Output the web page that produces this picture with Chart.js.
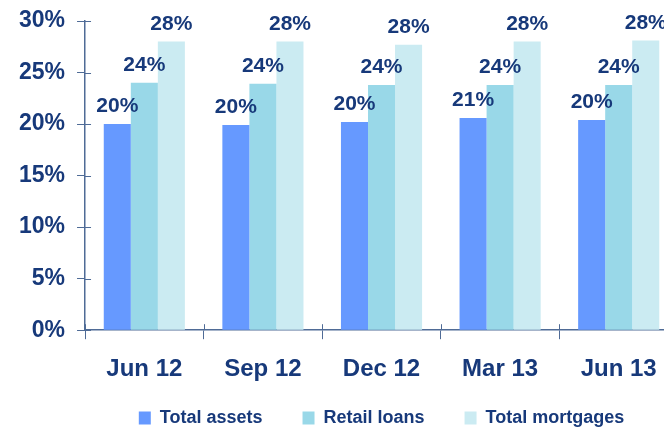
<!DOCTYPE html>
<html>
<head>
<meta charset="utf-8">
<script src="https://cdn.jsdelivr.net/npm/chart.js@4"></script>
<style>
  html, body { margin: 0; padding: 0; overflow: hidden; background: #fff; }
  #wrap { width: 680px; height: 437px; }
</style>
</head>
<body>
<div id="wrap"><canvas id="myChart"></canvas></div>
<script>
var labels = ['Jun 12', 'Sep 12', 'Dec 12', 'Mar 13', 'Jun 13'];
var totalAssets = [20.0, 19.9, 20.2, 20.6, 20.4];
var retailLoans = [24.0, 23.9, 23.8, 23.8, 23.8];
var totalMortgages = [28.0, 28.0, 27.7, 28.0, 28.1];
var yTicks = [0, 5, 10, 15, 20, 25, 30];

const navy = '#17397a';
const axisColor = '#4f6b96';
const fontFamily = '"Liberation Sans", Arial, sans-serif';

// value labels on top of each bar
const barLabels = {
    id: 'barLabels',
    afterDatasetsDraw(chart) {
        const ctx = chart.ctx;
        ctx.save();
        ctx.font = 'bold 21px ' + fontFamily;
        ctx.fillStyle = navy;
        ctx.textAlign = 'center';
        ctx.textBaseline = 'alphabetic';
        chart.data.datasets.forEach((ds, i) => {
            chart.getDatasetMeta(i).data.forEach((bar, j) => {
                ctx.fillText(Math.round(ds.data[j]) + '%', bar.x, bar.y - 12);
            });
        });
        ctx.restore();
    }
};

// short tick stubs inside the plot area (ticks cross the axis)
const innerTicks = {
    id: 'innerTicks',
    afterDraw(chart) {
        const ctx = chart.ctx;
        const x = chart.scales.x, y = chart.scales.y;
        ctx.save();
        ctx.strokeStyle = axisColor;
        ctx.lineWidth = 1;
        ctx.beginPath();
        y.ticks.forEach(t => {
            const py = Math.round(y.getPixelForValue(t.value)) + 0.5;
            ctx.moveTo(x.left, py);
            ctx.lineTo(x.left + 6, py);
        });
        const n = labels.length;
        for (let i = 0; i <= n; i++) {
            const px = Math.round(x.left + i * (x.right - x.left) / n) + 0.5;
            ctx.moveTo(px, y.bottom);
            ctx.lineTo(px, y.bottom - 6);
        }
        ctx.stroke();
        ctx.restore();
    }
};

const data = {
    labels: labels,
    datasets: [{
        label: 'Total assets',
        backgroundColor: '#6699ff',
        data: totalAssets,
    }, {
        label: 'Retail loans',
        backgroundColor: '#99d8e8',
        data: retailLoans,
    }, {
        label: 'Total mortgages',
        backgroundColor: '#cbebf2',
        data: totalMortgages,
    }]
};

const config = {
    type: 'bar',
    data: data,
    plugins: [barLabels, innerTicks],
    options: {
        responsive: true,
        maintainAspectRatio: false,
        animation: false,
        categoryPercentage: 0.684,
        barPercentage: 1.0,
        layout: {
            padding: { left: 7, right: 2, top: 21, bottom: 0 }
        },
        plugins: {
            tooltip: { enabled: false },
            legend: {
                position: 'bottom',
                fullSize: false,
                labels: {
                    color: navy,
                    boxWidth: 12,
                    boxHeight: 13,
                    padding: 10,
                    font: { family: fontFamily, size: 18, weight: 'bold' },
                    generateLabels: chart => {
                        const items = Chart.defaults.plugins.legend.labels.generateLabels(chart);
                        items.forEach((it, i) => {
                            if (i < items.length - 1) it.text += '      ';
                        });
                        return items;
                    }
                }
            }
        },
        scales: {
            x: {
                grid: {
                    offset: true,
                    drawOnChartArea: false,
                    tickLength: 9,
                    color: axisColor
                },
                border: { color: axisColor, width: 1.5 },
                ticks: {
                    color: navy,
                    padding: 16,
                    font: { family: fontFamily, size: 24, weight: 'bold' }
                },
                afterFit: scale => { scale.height -= 1; }
            },
            y: {
                min: 0,
                max: 30,
                afterBuildTicks: scale => { scale.ticks = yTicks.map(v => ({ value: v })); },
                afterFit: scale => { scale.paddingTop = 0; },
                grid: {
                    drawOnChartArea: false,
                    tickLength: 8,
                    color: axisColor
                },
                border: { color: axisColor, width: 1.5 },
                ticks: {
                    color: navy,
                    padding: 12,
                    font: { family: fontFamily, size: 23, weight: 'bold' },
                    callback: v => v + '%'
                }
            }
        }
    }
};

const myChart = new Chart(
    document.getElementById('myChart'),
    config
);
</script>
</body>
</html>
